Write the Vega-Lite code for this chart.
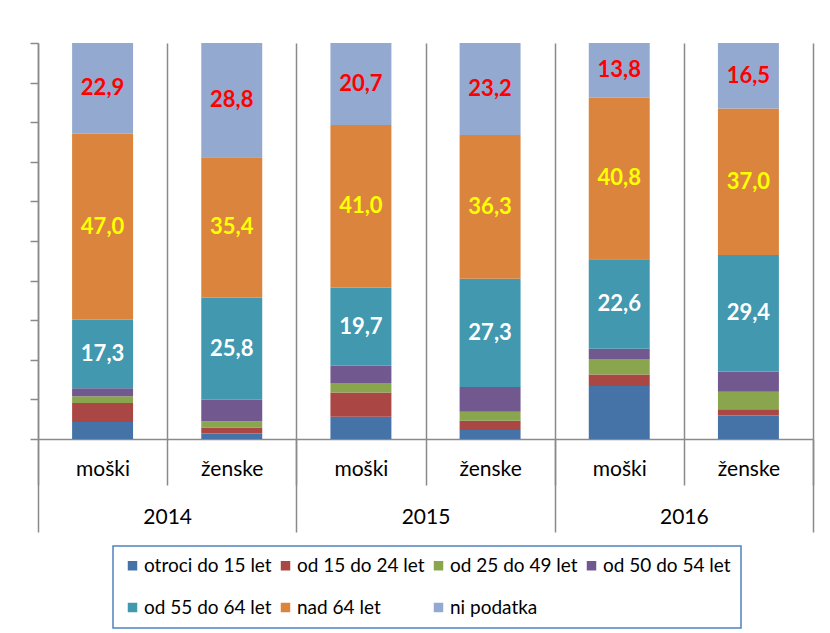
{
  "$schema": "https://vega.github.io/schema/vega-lite/v6.json",
  "width": 775,
  "height": 396,
  "autosize": {"type": "none"},
  "padding": {"left": 38, "top": 43, "right": 17, "bottom": 194},
  "background": "white",
  "config": {
    "font": "Lato",
    "view": {"stroke": null},
    "locale": {"number": {"decimal": ",", "thousands": ".", "grouping": [3], "currency": ["", " €"]}}
  },
  "data": {
    "values": [
      {"year": "2014", "sex": "moški", "bar": "2014 moški", "group": "otroci do 15 let", "rank": 1, "value": 4.3},
      {"year": "2014", "sex": "moški", "bar": "2014 moški", "group": "od 15 do 24 let", "rank": 2, "value": 4.8},
      {"year": "2014", "sex": "moški", "bar": "2014 moški", "group": "od 25 do 49 let", "rank": 3, "value": 1.7},
      {"year": "2014", "sex": "moški", "bar": "2014 moški", "group": "od 50 do 54 let", "rank": 4, "value": 2.0},
      {"year": "2014", "sex": "moški", "bar": "2014 moški", "group": "od 55 do 64 let", "rank": 5, "value": 17.3},
      {"year": "2014", "sex": "moški", "bar": "2014 moški", "group": "nad 64 let", "rank": 6, "value": 47.0},
      {"year": "2014", "sex": "moški", "bar": "2014 moški", "group": "ni podatka", "rank": 7, "value": 22.9},
      {"year": "2014", "sex": "ženske", "bar": "2014 ženske", "group": "otroci do 15 let", "rank": 1, "value": 1.4},
      {"year": "2014", "sex": "ženske", "bar": "2014 ženske", "group": "od 15 do 24 let", "rank": 2, "value": 1.5},
      {"year": "2014", "sex": "ženske", "bar": "2014 ženske", "group": "od 25 do 49 let", "rank": 3, "value": 1.6},
      {"year": "2014", "sex": "ženske", "bar": "2014 ženske", "group": "od 50 do 54 let", "rank": 4, "value": 5.4},
      {"year": "2014", "sex": "ženske", "bar": "2014 ženske", "group": "od 55 do 64 let", "rank": 5, "value": 25.8},
      {"year": "2014", "sex": "ženske", "bar": "2014 ženske", "group": "nad 64 let", "rank": 6, "value": 35.4},
      {"year": "2014", "sex": "ženske", "bar": "2014 ženske", "group": "ni podatka", "rank": 7, "value": 28.8},
      {"year": "2015", "sex": "moški", "bar": "2015 moški", "group": "otroci do 15 let", "rank": 1, "value": 5.6},
      {"year": "2015", "sex": "moški", "bar": "2015 moški", "group": "od 15 do 24 let", "rank": 2, "value": 6.1},
      {"year": "2015", "sex": "moški", "bar": "2015 moški", "group": "od 25 do 49 let", "rank": 3, "value": 2.4},
      {"year": "2015", "sex": "moški", "bar": "2015 moški", "group": "od 50 do 54 let", "rank": 4, "value": 4.4},
      {"year": "2015", "sex": "moški", "bar": "2015 moški", "group": "od 55 do 64 let", "rank": 5, "value": 19.7},
      {"year": "2015", "sex": "moški", "bar": "2015 moški", "group": "nad 64 let", "rank": 6, "value": 41.0},
      {"year": "2015", "sex": "moški", "bar": "2015 moški", "group": "ni podatka", "rank": 7, "value": 20.7},
      {"year": "2015", "sex": "ženske", "bar": "2015 ženske", "group": "otroci do 15 let", "rank": 1, "value": 2.3},
      {"year": "2015", "sex": "ženske", "bar": "2015 ženske", "group": "od 15 do 24 let", "rank": 2, "value": 2.3},
      {"year": "2015", "sex": "ženske", "bar": "2015 ženske", "group": "od 25 do 49 let", "rank": 3, "value": 2.3},
      {"year": "2015", "sex": "ženske", "bar": "2015 ženske", "group": "od 50 do 54 let", "rank": 4, "value": 6.2},
      {"year": "2015", "sex": "ženske", "bar": "2015 ženske", "group": "od 55 do 64 let", "rank": 5, "value": 27.3},
      {"year": "2015", "sex": "ženske", "bar": "2015 ženske", "group": "nad 64 let", "rank": 6, "value": 36.3},
      {"year": "2015", "sex": "ženske", "bar": "2015 ženske", "group": "ni podatka", "rank": 7, "value": 23.2},
      {"year": "2016", "sex": "moški", "bar": "2016 moški", "group": "otroci do 15 let", "rank": 1, "value": 13.4},
      {"year": "2016", "sex": "moški", "bar": "2016 moški", "group": "od 15 do 24 let", "rank": 2, "value": 2.9},
      {"year": "2016", "sex": "moški", "bar": "2016 moški", "group": "od 25 do 49 let", "rank": 3, "value": 3.9},
      {"year": "2016", "sex": "moški", "bar": "2016 moški", "group": "od 50 do 54 let", "rank": 4, "value": 2.6},
      {"year": "2016", "sex": "moški", "bar": "2016 moški", "group": "od 55 do 64 let", "rank": 5, "value": 22.6},
      {"year": "2016", "sex": "moški", "bar": "2016 moški", "group": "nad 64 let", "rank": 6, "value": 40.8},
      {"year": "2016", "sex": "moški", "bar": "2016 moški", "group": "ni podatka", "rank": 7, "value": 13.8},
      {"year": "2016", "sex": "ženske", "bar": "2016 ženske", "group": "otroci do 15 let", "rank": 1, "value": 5.9},
      {"year": "2016", "sex": "ženske", "bar": "2016 ženske", "group": "od 15 do 24 let", "rank": 2, "value": 1.6},
      {"year": "2016", "sex": "ženske", "bar": "2016 ženske", "group": "od 25 do 49 let", "rank": 3, "value": 4.4},
      {"year": "2016", "sex": "ženske", "bar": "2016 ženske", "group": "od 50 do 54 let", "rank": 4, "value": 5.1},
      {"year": "2016", "sex": "ženske", "bar": "2016 ženske", "group": "od 55 do 64 let", "rank": 5, "value": 29.4},
      {"year": "2016", "sex": "ženske", "bar": "2016 ženske", "group": "nad 64 let", "rank": 6, "value": 37.0},
      {"year": "2016", "sex": "ženske", "bar": "2016 ženske", "group": "ni podatka", "rank": 7, "value": 16.5}
    ]
  },
  "layer": [
    {
      "encoding": {
        "x": {
          "field": "bar", "type": "nominal", "sort": null,
          "scale": {"paddingInner": 0, "paddingOuter": 0},
          "axis": {
            "title": null, "orient": "bottom", "tickBand": "extent",
            "labelExpr": "split(datum.label, ' ')[1]",
            "labelAngle": 0, "labelFontSize": 21, "labelColor": "#000000", "labelFont": "Lato",
            "tickSize": 46, "tickColor": "#8a8a8a", "tickWidth": 1.5,
            "labelPadding": -27,
            "domainColor": "#8a8a8a", "domainWidth": 1.5,
            "grid": true, "gridColor": "#8a8a8a", "gridWidth": 1.5
          }
        },
        "y": {
          "field": "value", "type": "quantitative", "stack": "normalize",
          "scale": {"domain": [0, 1]},
          "axis": {
            "title": null, "labels": false, "grid": false,
            "values": [0, 0.1, 0.2, 0.3, 0.4, 0.5, 0.6, 0.7, 0.8, 0.9, 1],
            "tickSize": 8, "tickColor": "#8a8a8a", "tickWidth": 1.5,
            "domainColor": "#8a8a8a", "domainWidth": 1.5
          }
        },
        "order": {"field": "rank", "type": "quantitative", "sort": "ascending"}
      },
      "layer": [
        {
          "mark": {"type": "bar", "width": {"band": 0.472}},
          "encoding": {
            "color": {
              "field": "group", "type": "nominal",
              "scale": {
                "domain": ["otroci do 15 let", "od 15 do 24 let", "od 25 do 49 let", "od 50 do 54 let", "od 55 do 64 let", "nad 64 let", "ni podatka"],
                "range": ["#4572A7", "#AA4643", "#89A54E", "#71588F", "#4198AF", "#DB843D", "#93A9CF"]
              },
              "legend": {
                "title": null, "orient": "none", "legendX": 75, "legendY": 503,
                "direction": "horizontal", "columns": 4, "gridAlign": "all",
                "symbolType": "square", "symbolSize": 90, "symbolStrokeWidth": 0,
                "labelFontSize": 19, "labelFont": "Lato", "labelColor": "#000000",
                "labelOffset": 2, "columnPadding": 4, "rowPadding": 22,
                "padding": 10, "strokeColor": "#4F81BD",
                "encode": {"legend": {"update": {"strokeWidth": {"value": 1.5}}}}
              }
            }
          }
        },
        {
          "mark": {"type": "text", "fontSize": 22, "fontWeight": "bold", "font": "Lato", "baseline": "middle", "align": "center"},
          "encoding": {
            "y": {"field": "value", "type": "quantitative", "stack": "normalize", "bandPosition": 0.5},
            "detail": {"field": "group", "type": "nominal"},
            "text": {
              "condition": {"test": "datum.rank < 5", "value": ""},
              "field": "value", "type": "quantitative", "format": ".1f"
            },
            "color": {
              "condition": [
                {"test": "datum.rank == 5", "value": "#FFFFFF"},
                {"test": "datum.rank == 6", "value": "#FFFF00"}
              ],
              "value": "#FF0000"
            }
          }
        }
      ]
    },
    {
      "mark": {"type": "text", "text": ""},
      "encoding": {
        "x": {
          "field": "year", "type": "nominal", "sort": null,
          "scale": {"paddingInner": 0, "paddingOuter": 0},
          "axis": {
            "title": null, "orient": "bottom", "tickBand": "extent",
            "labelAngle": 0, "labelFontSize": 21, "labelColor": "#000000", "labelFont": "Lato",
            "tickSize": 93, "tickColor": "#8a8a8a", "tickWidth": 1.5,
            "labelPadding": -26, "domain": false, "grid": false
          }
        }
      }
    }
  ],
  "resolve": {"scale": {"x": "independent"}, "axis": {"x": "independent"}}
}
